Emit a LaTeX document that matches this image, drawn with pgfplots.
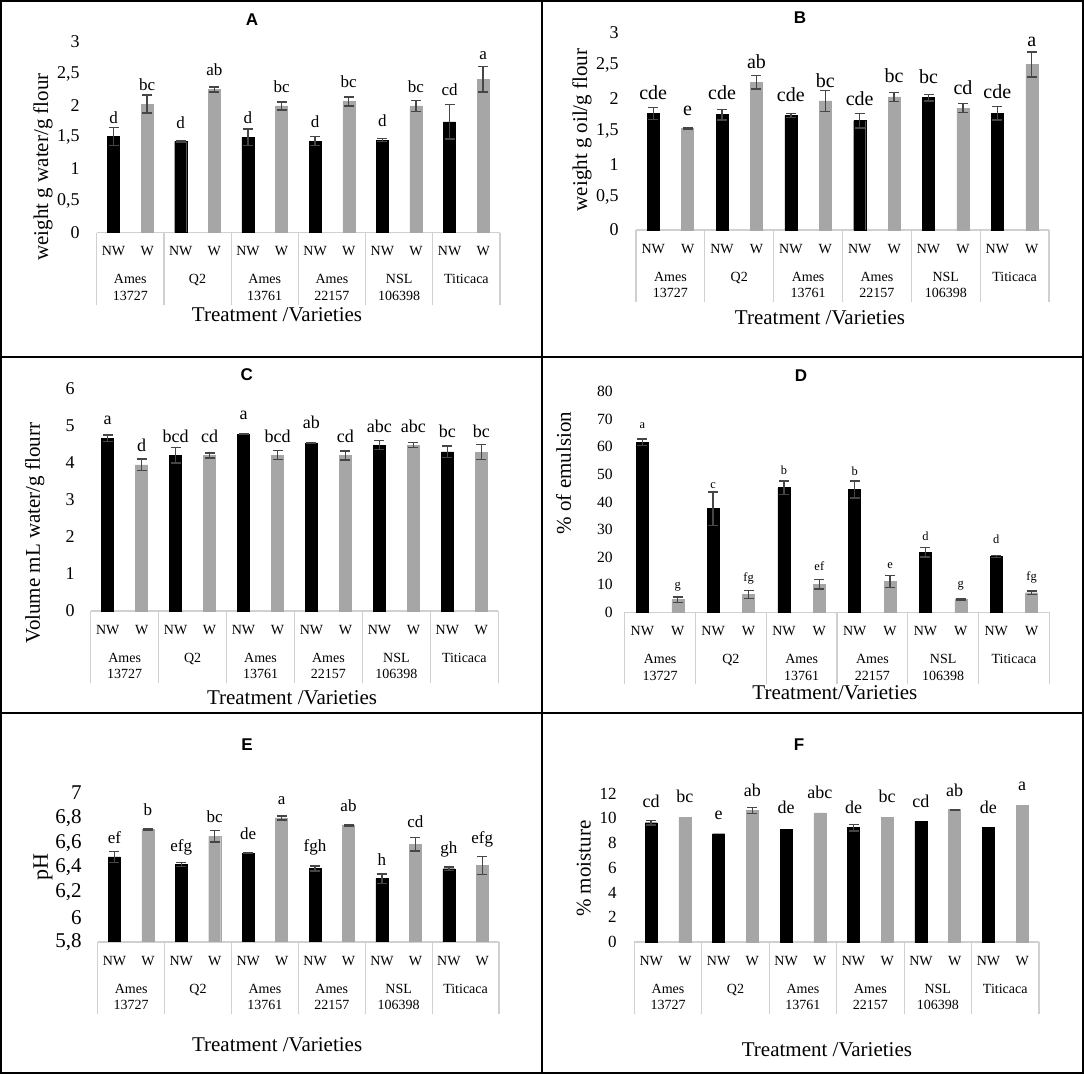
\documentclass[border=0pt]{standalone}
\usepackage{fontspec}
\setmainfont{Liberation Serif}
\newfontfamily\sansb{Liberation Sans}
\usepackage{pgfplots}
\usepackage{pgfplotstable}
\pgfplotsset{compat=1.18}

\definecolor{barg}{RGB}{166,166,166}
\definecolor{errc}{RGB}{70,70,70}
\definecolor{axg}{RGB}{208,208,208}

\pgfplotstableread{
nw nwe nwl nwlab w we wl wlab
1.51 0.14 1.717 d 2.02 0.14 2.23 bc
1.43 0.01 1.64 d 2.25 0.04 2.476 ab
1.50 0.13 1.717 d 1.99 0.06 2.20 bc
1.44 0.07 1.654 d 2.06 0.07 2.277 bc
1.455 0.02 1.665 d 1.99 0.09 2.204 bc
1.74 0.27 2.152 cd 2.41 0.20 2.728 a
}\tabA
\pgfplotstableread{
nw nwe nwl nwlab w we wl wlab
1.77 0.09 1.983 cde 1.54 0.01 1.745 e
1.75 0.08 1.973 cde 2.24 0.10 2.453 ab
1.735 0.03 1.947 cde 1.96 0.16 2.165 bc
1.66 0.11 1.882 cde 2.02 0.07 2.236 bc
2.01 0.05 2.226 bc 1.85 0.07 2.059 cd
1.77 0.10 1.988 cde 2.51 0.19 2.792 a
}\tabB
\pgfplotstableread{
nw nwe nwl nwlab w we wl wlab
4.65 0.09 5.03 a 3.94 0.15 4.295 d
4.20 0.21 4.546 bcd 4.19 0.07 4.546 cd
4.76 0.01 5.148 a 4.20 0.12 4.546 bcd
4.53 0.01 4.906 ab 4.19 0.12 4.546 cd
4.47 0.12 4.816 abc 4.47 0.07 4.816 abc
4.29 0.16 4.672 bc 4.28 0.20 4.672 bc
}\tabC
\pgfplotstableread{
nw nwe nwl nwlab w we wl wlab
61.6 1.2 66.5 a 4.6 1.0 8.7 g
37.6 6.1 45.0 c 6.5 1.5 11.1 fg
45.2 2.4 49.8 b 10.2 1.7 15.3 ef
44.5 3.1 49.5 b 11.1 2.2 16.0 e
21.8 1.8 26.2 d 4.7 0.2 9.1 g
20.2 0.3 25.0 d 7.1 0.6 11.5 fg
}\tabD
\pgfplotstableread{
nw nwe nwl nwlab w we wl wlab
6.485 0.045 6.592 ef 6.705 0.005 6.815 b
6.423 0.016 6.530 efg 6.651 0.046 6.766 bc
6.514 0.003 6.627 de 6.799 0.016 6.906 a
6.393 0.02 6.525 fgh 6.74 0.005 6.852 ab
6.31 0.038 6.417 h 6.587 0.054 6.726 cd
6.39 0.013 6.511 gh 6.417 0.073 6.592 efg
}\tabE
\pgfplotstableread{
nw nwl nwlab w wl wlab
9.65 10.87 cd 10.06 11.25 bc
8.76 9.92 e 10.63 11.81 ab
9.12 10.38 de 10.44 11.6 abc
9.25 10.38 de 10.11 11.25 bc
9.76 10.92 cd 10.71 11.81 ab
9.28 10.38 de 11.08 12.27 a
}\tabF
\pgfplotstableread{
x y e
0.5 9.65 0.18
6.5 9.25 0.27
}\tabFnwerr
\pgfplotstableread{
x y e
3.5 10.63 0.24
9.5 10.71 0.03
}\tabFwerr

\pgfplotsset{
 panel/.style={
  scale only axis, anchor=south west, clip=false,
  xmin=0, xmax=12,
  axis x line*=bottom, axis y line*=left,
  x axis line style={draw=axg, line width=0.6pt, -},
  y axis line style={draw=none},
  xtick={0.5,1.5,...,11.5},
  xticklabels={NW,W,NW,W,NW,W,NW,W,NW,W,NW,W},
  minor xtick={0,2,...,12},
  extra x ticks={1,3,5,7,9,11},
  extra x tick labels={{Ames\\13727},Q2,{Ames\\13761},{Ames\\22157},{NSL\\106398},Titicaca},
  extra x tick style={tick style={draw=none}, xticklabel style={align=center, yshift=-14pt}},
  xticklabel style={anchor=north, inner sep=0pt, yshift=-6.75pt, font=\fontsize{7}{8.3}\selectfont},
  major tick length=0pt, minor tick length=36pt,
  xtick align=outside,
  major x tick style={draw=none},
  minor x tick style={draw=axg, line width=0.6pt},
  ytick style={draw=none},
  /pgf/number format/assume math mode=true,
  /pgf/number format/fixed, /pgf/number format/precision=1, /pgf/number format/use comma,
  yticklabel style={anchor=east, inner sep=0pt},
  every axis title/.style={anchor=center, font=\sansb\bfseries\fontsize{8.5}{9}\selectfont},
  every axis x label/.style={anchor=center, font=\fontsize{10.5}{12}\selectfont},
  every axis y label/.style={anchor=center, rotate=90, font=\fontsize{10.5}{12}\selectfont},
 },
 nwbar/.style={ybar, bar width=6pt, bar shift=0pt, fill=black, draw=black, line width=0.2pt},
 wbar/.style={ybar, bar width=6pt, bar shift=0pt, fill=barg, draw=barg, line width=0.2pt},
 errs/.style={error bars/.cd, y dir=both, y explicit, error bar style={draw=errc, line width=0.7pt}, error mark options={rotate=90, mark size=2.5pt, draw=errc, line width=0.7pt}},
 labs/.style={draw=none, mark=none, nodes near coords, point meta=explicit symbolic, every node near coord/.append style={anchor=base, inner sep=0pt, text=black, font=#1}},
}

\begin{document}
\begin{tikzpicture}
\useasboundingbox (0pt,0pt) rectangle (542pt,-537pt);

% ---------- A ----------
\begin{axis}[panel, at={(48.35pt,-116.35pt)}, width=201.65pt, height=95.5pt,
  ymin=0, ymax=3, ytick={0,0.5,...,3},
  yticklabel style={font=\fontsize{9}{10}\selectfont, xshift=-8.3pt},
  title={A}, title style={at={(axis description cs:0.385,1.114)}},
  xlabel={Treatment /Varieties}, xlabel style={at={(axis description cs:0.447,-0.431)}},
  ylabel={weight g water/g flour}, ylabel style={at={(axis description cs:-0.133,0.344)}}]
\addplot[nwbar, errs] table[x expr=\coordindex*2+0.5, y=nw, y error=nwe] \tabA;
\addplot[wbar, errs] table[x expr=\coordindex*2+1.5, y=w, y error=we] \tabA;
\addplot[labs={\fontsize{8.5}{10}\selectfont}] table[x expr=\coordindex*2+0.5, y=nwl, meta=nwlab] \tabA;
\addplot[labs={\fontsize{8.5}{10}\selectfont}] table[x expr=\coordindex*2+1.5, y=wl, meta=wlab] \tabA;
\end{axis}

% ---------- B ----------
\begin{axis}[panel, at={(318pt,-115pt)}, width=206.5pt, height=98.85pt,
  ymin=0, ymax=3, ytick={0,0.5,...,3},
  yticklabel style={font=\fontsize{9}{10}\selectfont, xshift=-8.5pt},
  title={B}, title style={at={(axis description cs:0.397,1.072)}},
  xlabel={Treatment /Varieties}, xlabel style={at={(axis description cs:0.4455,-0.445)}},
  ylabel={weight g oil/g flour}, ylabel style={at={(axis description cs:-0.131,0.506)}}]
\addplot[nwbar, errs] table[x expr=\coordindex*2+0.5, y=nw, y error=nwe] \tabB;
\addplot[wbar, errs] table[x expr=\coordindex*2+1.5, y=w, y error=we] \tabB;
\addplot[labs={\fontsize{10}{11}\selectfont}] table[x expr=\coordindex*2+0.5, y=nwl, meta=nwlab] \tabB;
\addplot[labs={\fontsize{10}{11}\selectfont}] table[x expr=\coordindex*2+1.5, y=wl, meta=wlab] \tabB;
\end{axis}

% ---------- C ----------
\begin{axis}[panel, at={(45.35pt,-305.5pt)}, width=203.8pt, height=111.35pt,
  ymin=0, ymax=6, ytick={0,1,...,6},
  yticklabel style={font=\fontsize{9}{10}\selectfont, xshift=-7.8pt},
  title={C}, title style={at={(axis description cs:0.383,1.060)}},
  xlabel={Treatment /Varieties}, xlabel style={at={(axis description cs:0.494,-0.391)}},
  ylabel={Volume mL water/g flourr}, ylabel style={at={(axis description cs:-0.137,0.350)}}]
\addplot[nwbar, errs] table[x expr=\coordindex*2+0.5, y=nw, y error=nwe] \tabC;
\addplot[wbar, errs] table[x expr=\coordindex*2+1.5, y=w, y error=we] \tabC;
\addplot[labs={\fontsize{9}{10}\selectfont}] table[x expr=\coordindex*2+0.5, y=nwl, meta=nwlab] \tabC;
\addplot[labs={\fontsize{9}{10}\selectfont}] table[x expr=\coordindex*2+1.5, y=wl, meta=wlab] \tabC;
\end{axis}

% ---------- D ----------
\begin{axis}[panel, at={(312.35pt,-306.15pt)}, width=212.3pt, height=110.3pt,
  ymin=0, ymax=80, ytick={0,10,...,80},
  yticklabel style={font=\fontsize{7.8}{9}\selectfont, xshift=-5.8pt},
  title={D}, title style={at={(axis description cs:0.415,1.071)}},
  xlabel={Treatment/Varieties}, xlabel style={at={(axis description cs:0.495,-0.366)}},
  ylabel={\% of emulsion}, ylabel style={at={(axis description cs:-0.144,0.631)}}]
\addplot[nwbar, errs] table[x expr=\coordindex*2+0.5, y=nw, y error=nwe] \tabD;
\addplot[wbar, errs] table[x expr=\coordindex*2+1.5, y=w, y error=we] \tabD;
\addplot[labs={\fontsize{6.2}{7}\selectfont}] table[x expr=\coordindex*2+0.5, y=nwl, meta=nwlab] \tabD;
\addplot[labs={\fontsize{6.2}{7}\selectfont}] table[x expr=\coordindex*2+1.5, y=wl, meta=wlab] \tabD;
\end{axis}

% ---------- E ----------
\begin{axis}[panel, clip=true, at={(48.85pt,-471pt)}, width=200.65pt, height=74.5pt,
  ymin=5.8, ymax=7, ytick={5.8,6,6.2,6.4,6.6,6.8,7},
  yticklabel style={font=\fontsize{10.5}{12}\selectfont, xshift=-7.8pt},
  title={E}, title style={at={(axis description cs:0.372,1.322)}},
  xlabel={Treatment /Varieties}, xlabel style={at={(axis description cs:0.447,-0.691)}},
  ylabel={pH}, ylabel style={at={(axis description cs:-0.136,0.503)}, font=\fontsize{11}{12}\selectfont}]
\addplot[nwbar, errs] table[x expr=\coordindex*2+0.5, y=nw, y error=nwe] \tabE;
\addplot[wbar, errs] table[x expr=\coordindex*2+1.5, y=w, y error=we] \tabE;
\addplot[labs={\fontsize{8.5}{10}\selectfont}] table[x expr=\coordindex*2+0.5, y=nwl, meta=nwlab] \tabE;
\addplot[labs={\fontsize{8.5}{10}\selectfont}] table[x expr=\coordindex*2+1.5, y=wl, meta=wlab] \tabE;
\end{axis}

% ---------- F ----------
\begin{axis}[panel, at={(317.15pt,-471pt)}, width=202.35pt, height=74.15pt,
  ymin=0, ymax=12, ytick={0,2,...,12},
  yticklabel style={font=\fontsize{8.5}{10}\selectfont, xshift=-8.7pt},
  title={F}, title style={at={(axis description cs:0.407,1.328)}},
  xlabel={Treatment /Varieties}, xlabel style={at={(axis description cs:0.476,-0.728)}},
  ylabel={\% moisture}, ylabel style={at={(axis description cs:-0.125,0.494)}}]
\addplot[nwbar] table[x expr=\coordindex*2+0.5, y=nw] \tabF;
\addplot[wbar] table[x expr=\coordindex*2+1.5, y=w] \tabF;
\addplot[draw=none, mark=none, errs] table[x=x, y=y, y error=e] \tabFnwerr;
\addplot[draw=none, mark=none, errs] table[x=x, y=y, y error=e] \tabFwerr;
\addplot[labs={\fontsize{9}{10}\selectfont}] table[x expr=\coordindex*2+0.5, y=nwl, meta=nwlab] \tabF;
\addplot[labs={\fontsize{9}{10}\selectfont}] table[x expr=\coordindex*2+1.5, y=wl, meta=wlab] \tabF;
\end{axis}

% panel frames
\draw[line width=1.1pt] (0.55pt,-0.55pt) rectangle (541.45pt,-536.45pt);
\draw[line width=1.1pt] (271pt,-0.55pt) -- (271pt,-536.45pt);
\draw[line width=1.1pt] (0.55pt,-178.5pt) -- (541.45pt,-178.5pt);
\draw[line width=1.1pt] (0.55pt,-356.5pt) -- (541.45pt,-356.5pt);
\end{tikzpicture}
\end{document}
